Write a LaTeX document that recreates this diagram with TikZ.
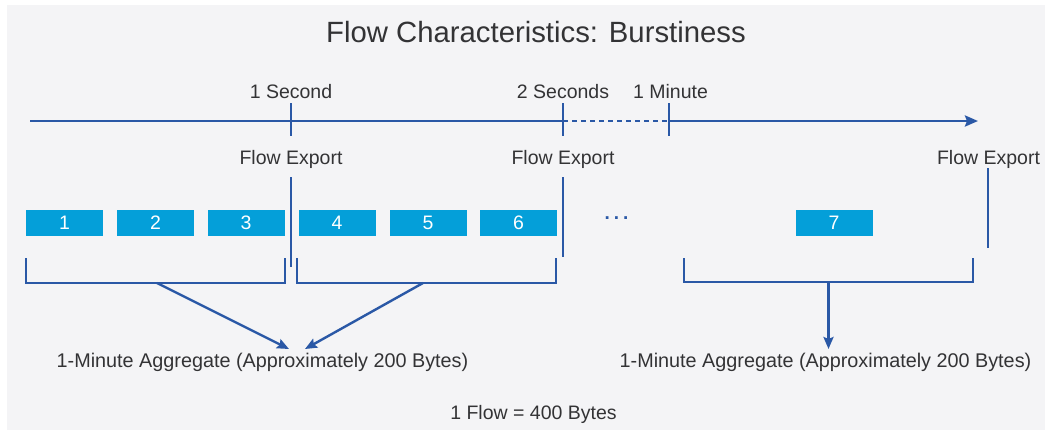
\documentclass[tikz,border=0pt]{standalone}
\usepackage{fontspec}
\setmainfont{Liberation Sans}
\usetikzlibrary{arrows.meta}
\definecolor{bg}{HTML}{F4F4F6}
\definecolor{navy}{HTML}{2A58A6}
\definecolor{cyanbox}{HTML}{049FD9}
\definecolor{ink}{HTML}{333335}

\begin{document}
\begin{tikzpicture}[x=1pt,y=-1pt,
  lbl/.style={text=ink, font=\fontsize{19.5}{22}\selectfont, anchor=base, inner sep=0pt},
  pkt/.style={fill=cyanbox, minimum width=77pt, minimum height=26pt, inner sep=0pt,
              text=white, font=\fontsize{19.5}{22}\selectfont},
  axis/.style={navy, line width=2.8pt},
  tickmark/.style={navy, line width=2.6pt},
  exportline/.style={navy, line width=2.6pt},
  brk/.style={navy, line width=2.6pt},
  agg/.style={navy, line width=2.4pt, -{Stealth[length=12pt,width=10pt,inset=2pt]}}]

\useasboundingbox (0,0) rectangle (1049,432);
\fill[bg] (7,5) rectangle (1045,430);

% title
\node[lbl, font=\fontsize{29.3}{32}\selectfont] (title) at (536,42) {Flow Characteristics: Burstiness};

% time axis
\coordinate (t0) at (30,121);
\coordinate (t1) at (563,121);
\coordinate (t2) at (669,121);
\coordinate (t3) at (978,121);
\draw[axis] (t0) -- (t1);
\draw[navy, line width=2.2pt, dash pattern=on 5pt off 4pt] (t1) -- (t2);
\draw[axis, -{Stealth[length=13pt,width=11pt,inset=2pt]}] (t2) -- (t3);

% ticks
\coordinate (k1t) at (291,103); \coordinate (k1b) at (291,136);
\coordinate (k2t) at (563,103); \coordinate (k2b) at (563,136);
\coordinate (k3t) at (669,103); \coordinate (k3b) at (669,136);
\draw[tickmark] (k1t) -- (k1b);
\draw[tickmark] (k2t) -- (k2b);
\draw[tickmark] (k3t) -- (k3b);

\node[lbl] (sec1) at (291,98) {1 Second};
\node[lbl] (sec2) at (563,98) {2 Seconds};
\node[lbl] (min1) at (670.5,98) {1 Minute};

% flow exports
\node[lbl] (fx1) at (291,164) {Flow Export};
\node[lbl] (fx2) at (563,164) {Flow Export};
\node[lbl] (fx3) at (988.5,164) {Flow Export};
\coordinate (x1t) at (291,177); \coordinate (x1b) at (291,267);
\coordinate (x2t) at (563,177); \coordinate (x2b) at (563,257);
\coordinate (x3t) at (988,168); \coordinate (x3b) at (988,248);
\draw[exportline] (x1t) -- (x1b);
\draw[exportline] (x2t) -- (x2b);
\draw[exportline] (x3t) -- (x3b);

% packets
\node[pkt] (b1) at (64.5,223) {1};
\node[pkt] (b2) at (155.5,223) {2};
\node[pkt] (b3) at (246,223) {3};
\node[pkt] (b4) at (337,223) {4};
\node[pkt] (b5) at (428,223) {5};
\node[pkt] (b6) at (518.5,223) {6};
\node[pkt] (b7) at (834,223) {7};
\node[text=navy, font=\fontsize{19}{22}\selectfont\bfseries, anchor=base, inner sep=0pt]
  (dots) at (616.5,219) {.\hspace{4pt}.\hspace{4pt}.};

% brackets
\draw[brk] (26,258) -- (26,283) -- (285,283) -- (285,258);
\draw[brk] (297,258) -- (297,283) -- (556,283) -- (556,258);
\draw[brk] (684,258) -- (684,282) -- (973,282) -- (973,258);
\coordinate (m1) at (157,283);
\coordinate (m2) at (423,283);
\coordinate (m3) at (828.5,282);

% aggregates
\coordinate (a1) at (289,349);
\coordinate (a2) at (305,349);
\coordinate (a3) at (828.5,349);
\draw[agg] (m1) -- (a1);
\draw[agg] (m2) -- (a2);
\draw[agg] (m3) -- (a3);

\node[lbl, font=\fontsize{19.8}{22}\selectfont] (agg1) at (262.5,367) {1-Minute Aggregate (Approximately 200 Bytes)};
\node[lbl, font=\fontsize{19.8}{22}\selectfont] (agg2) at (825.5,367) {1-Minute Aggregate (Approximately 200 Bytes)};

\node[lbl] (note) at (533.5,419) {1 Flow = 400 Bytes};
\end{tikzpicture}
\end{document}
